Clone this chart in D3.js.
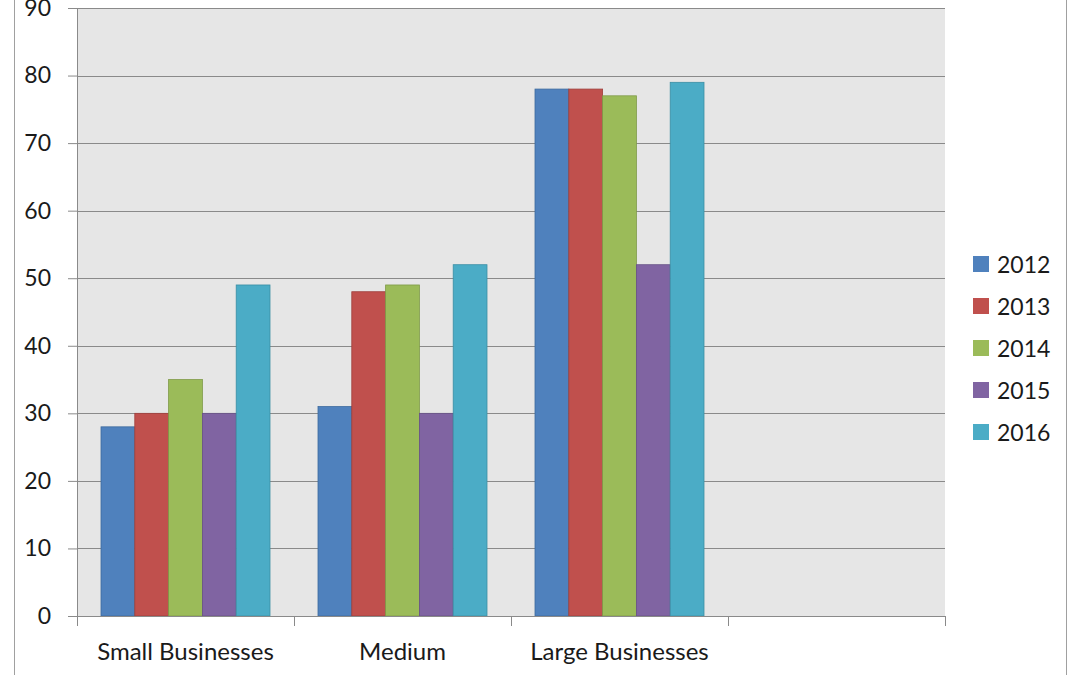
<!DOCTYPE html>
<html>
<head>
<meta charset="utf-8">
<script src="https://cdn.jsdelivr.net/npm/d3@7"></script>
<style>
  body { margin: 0; background: #fff; }
  text { font-family: Lato, "Open Sans", sans-serif; fill: #1a1a1a; }
</style>
</head>
<body>
<script>
// data
const categories = ["Small Businesses", "Medium", "Large Businesses", ""];
const years = ["2012", "2013", "2014", "2015", "2016"];
const values2012 = [28, 31, 78];
const values2013 = [30, 48, 78];
const values2014 = [35, 49, 77];
const values2015 = [30, 30, 52];
const values2016 = [49, 52, 79];
const yTicks = [0, 10, 20, 30, 40, 50, 60, 70, 80, 90];
const colors = ["#4F81BD", "#C0504D", "#9BBB59", "#8064A2", "#4BACC6"];
const strokes = ["#3d6a9e", "#9e3e3b", "#7f9a48", "#675186", "#3a8ea4"];

const series = [values2012, values2013, values2014, values2015, values2016];

const width = 1080, height = 675;
const plot = { left: 77, right: 945, top: 8, bottom: 616 };

const svg = d3.select("body").append("svg")
  .attr("width", width)
  .attr("height", height);

// outer frame lines
svg.append("line").attr("x1", 14.5).attr("x2", 14.5).attr("y1", 0).attr("y2", height)
  .attr("stroke", "#a0a0a0");
svg.append("line").attr("x1", 1066.5).attr("x2", 1066.5).attr("y1", 0).attr("y2", height)
  .attr("stroke", "#a0a0a0");

const x0 = d3.scaleBand()
  .domain(categories.map((c, i) => i))
  .range([plot.left, plot.right])
  .padding(0);

const inset = 24;
const x1 = d3.scaleBand()
  .domain(years)
  .range([inset, x0.bandwidth() - inset])
  .padding(0);

const y = d3.scaleLinear().domain([0, 90]).range([plot.bottom, plot.top]);

// plot background
svg.append("rect")
  .attr("x", plot.left)
  .attr("y", plot.top)
  .attr("width", plot.right - plot.left)
  .attr("height", plot.bottom - plot.top)
  .attr("fill", "#e6e6e6");

// gridlines + y axis
const yAxis = svg.append("g")
  .attr("transform", `translate(${plot.left},0)`)
  .call(d3.axisLeft(y).tickValues(yTicks).tickSize(9).tickPadding(17));
yAxis.select(".domain").attr("stroke", "#8a8a8a");
yAxis.selectAll(".tick line").attr("stroke", "#8a8a8a");
yAxis.selectAll(".tick text").attr("font-size", 23).attr("font-family", "Lato, sans-serif").attr("fill", "#1a1a1a");

svg.append("g")
  .selectAll("line")
  .data(yTicks.filter(d => d > 0))
  .join("line")
  .attr("x1", plot.left)
  .attr("x2", plot.right)
  .attr("y1", d => Math.round(y(d)) + 0.5)
  .attr("y2", d => Math.round(y(d)) + 0.5)
  .attr("stroke", "#8a8a8a");

// bars
const groups = svg.append("g")
  .selectAll("g")
  .data(categories.slice(0, 3).map((c, i) => i))
  .join("g")
  .attr("transform", i => `translate(${x0(i)},0)`);

groups.selectAll("rect")
  .data(i => series.map((s, k) => ({ year: years[k], value: s[i], k })))
  .join("rect")
  .attr("x", d => x1(d.year))
  .attr("y", d => y(d.value))
  .attr("width", x1.bandwidth())
  .attr("height", d => y(0) - y(d.value))
  .attr("fill", d => colors[d.k])
  .attr("stroke", d => strokes[d.k])
  .attr("stroke-width", 0.8);

// x axis
const xAxis = svg.append("g")
  .attr("transform", `translate(0,${plot.bottom})`);
xAxis.append("line")
  .attr("x1", plot.left).attr("x2", plot.right)
  .attr("y1", 0.5).attr("y2", 0.5)
  .attr("stroke", "#8a8a8a");
xAxis.selectAll(".tk")
  .data(d3.range(categories.length + 1))
  .join("line")
  .attr("class", "tk")
  .attr("x1", i => Math.round(plot.left + i * x0.bandwidth()) + 0.5)
  .attr("x2", i => Math.round(plot.left + i * x0.bandwidth()) + 0.5)
  .attr("y1", 0)
  .attr("y2", 10)
  .attr("stroke", "#8a8a8a");
xAxis.selectAll("text")
  .data(categories)
  .join("text")
  .attr("x", (c, i) => x0(i) + x0.bandwidth() / 2)
  .attr("y", 44)
  .attr("text-anchor", "middle")
  .attr("font-size", 24)
  .text(d => d);

// legend
const legend = svg.append("g")
  .attr("transform", "translate(973,264)");
const item = legend.selectAll("g")
  .data(years)
  .join("g")
  .attr("transform", (d, i) => `translate(0,${i * 42})`);
item.append("rect")
  .attr("x", 0)
  .attr("y", -8)
  .attr("width", 16)
  .attr("height", 16)
  .attr("fill", (d, i) => colors[i]);
item.append("text")
  .attr("x", 24)
  .attr("y", 0)
  .attr("dominant-baseline", "central")
  .attr("font-size", 23)
  .text(d => d);
</script>
</body>
</html>
